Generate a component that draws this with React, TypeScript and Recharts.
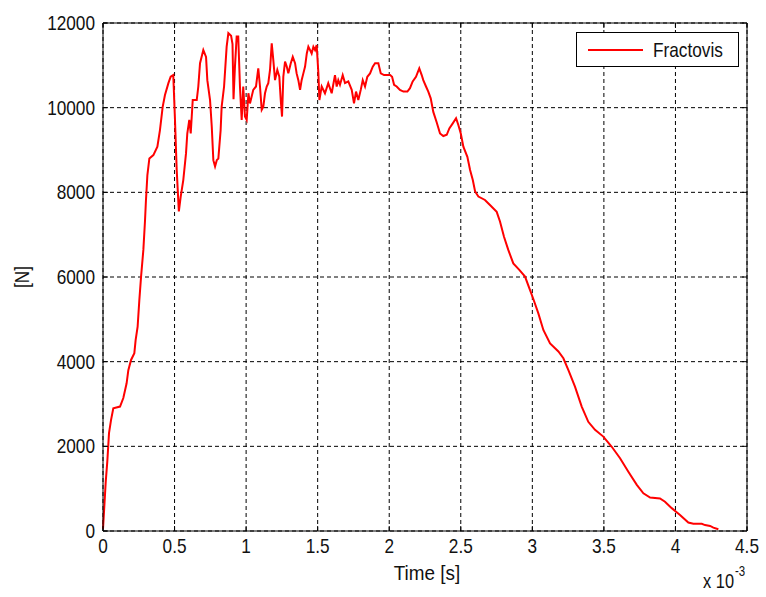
import React from 'react';
import {
  LineChart, Line, XAxis, YAxis, CartesianGrid, ReferenceLine, Legend, Label,
} from 'recharts';

// time in units of 1e-3 s, force in N
const timeMs = [
  0, 0.009, 0.019, 0.03, 0.042, 0.056, 0.072, 0.119, 0.142, 0.165,
  0.177, 0.196, 0.219, 0.228, 0.242, 0.254, 0.266, 0.282, 0.293, 0.3,
  0.31, 0.324, 0.352, 0.38, 0.398, 0.417, 0.433, 0.457, 0.473, 0.491,
  0.503, 0.515, 0.53, 0.543, 0.561, 0.58, 0.589, 0.603, 0.613, 0.627,
  0.655, 0.666, 0.678, 0.701, 0.72, 0.729, 0.748, 0.76, 0.771, 0.783,
  0.795, 0.806, 0.822, 0.829, 0.846, 0.864, 0.876, 0.895, 0.905, 0.912,
  0.922, 0.934, 0.945, 0.957, 0.969, 0.98, 0.992, 1.004, 1.016, 1.027,
  1.05, 1.069, 1.085, 1.097, 1.109, 1.12, 1.132, 1.144, 1.155, 1.167,
  1.179, 1.19, 1.202, 1.218, 1.232, 1.242, 1.251, 1.26, 1.272, 1.284,
  1.295, 1.312, 1.326, 1.342, 1.353, 1.365, 1.377, 1.388, 1.4, 1.412,
  1.424, 1.435, 1.447, 1.458, 1.47, 1.482, 1.493, 1.505, 1.512, 1.528,
  1.551, 1.574, 1.598, 1.621, 1.633, 1.644, 1.656, 1.675, 1.691, 1.714,
  1.738, 1.754, 1.768, 1.784, 1.801, 1.815, 1.831, 1.847, 1.866, 1.885,
  1.901, 1.924, 1.941, 1.964, 1.987, 2.006, 2.02, 2.034, 2.052, 2.075,
  2.099, 2.127, 2.145, 2.164, 2.187, 2.21, 2.227, 2.238, 2.257, 2.273,
  2.29, 2.308, 2.332, 2.355, 2.378, 2.402, 2.42, 2.444, 2.467, 2.483,
  2.5, 2.518, 2.546, 2.565, 2.584, 2.6, 2.623, 2.669, 2.704, 2.751,
  2.774, 2.802, 2.832, 2.867, 2.909, 2.949, 2.984, 3.007, 3.042, 3.077,
  3.124, 3.182, 3.217, 3.252, 3.298, 3.345, 3.391, 3.438, 3.496, 3.555,
  3.613, 3.671, 3.73, 3.776, 3.823, 3.892, 3.927, 3.974, 4.032, 4.09,
  4.125, 4.184, 4.207, 4.242, 4.265, 4.3,
];

const forceN = [
  50, 570, 1160, 1640, 2310, 2620, 2900, 2940, 3140, 3490,
  3800, 4040, 4200, 4510, 4830, 5460, 6010, 6640, 7300, 7800,
  8400, 8800, 8880, 9080, 9470, 10020, 10300, 10580, 10730, 10770,
  9710, 8530, 7550, 7900, 8290, 8920, 9390, 9710, 9390, 10180,
  10180, 10500, 11050, 11360, 11200, 10650, 10180, 9550, 8760, 8610,
  8760, 8800, 9470, 10020, 10500, 11440, 11760, 11700, 11500, 10200,
  10970, 11680, 11680, 10500, 9710, 10500, 9790, 9710, 10340, 10100,
  10420, 10500, 10930, 10500, 9950, 10020, 10340, 10500, 10580, 10890,
  11520, 11130, 10650, 10890, 10730, 10180, 9790, 10730, 11090, 10970,
  10810, 11050, 11200, 11050, 10810, 10650, 10420, 10650, 10810, 10970,
  11280, 11440, 11360, 11280, 11440, 11360, 11480, 10810, 10180, 10500,
  10340, 10580, 10340, 10770, 10500, 10650, 10540, 10770, 10580, 10620,
  10420, 10100, 10380, 10180, 10420, 10650, 10500, 10730, 10810, 10970,
  11050, 11050, 10810, 10770, 10770, 10770, 10730, 10540, 10500, 10420,
  10380, 10380, 10460, 10620, 10730, 10930, 10770, 10650, 10500, 10380,
  10220, 9900, 9650, 9390, 9330, 9360, 9510, 9630, 9750, 9590,
  9390, 9080, 8840, 8530, 8290, 8020, 7900, 7820, 7700, 7540,
  7310, 6950, 6640, 6320, 6170, 6010, 5690, 5480, 5140, 4750,
  4430, 4240, 4080, 3800, 3410, 2940, 2580, 2390, 2230, 1990,
  1720, 1400, 1090, 890, 790, 770, 690, 540, 380, 200,
  170, 170, 140, 120, 80, 40,
];

const xTicks = [0, 0.5, 1, 1.5, 2, 2.5, 3, 3.5, 4, 4.5];
const yTicks = [0, 2000, 4000, 6000, 8000, 10000, 12000];
const seriesName = 'Fractovis';

const data = timeMs.map((t, i) => ({ t, f: forceN[i] }));

const FONT = '"Liberation Sans", Arial, Helvetica, sans-serif';
const INK = '#111';
const PLOT_W = 644;
const PLOT_H = 508;

// narrow text: scale glyphs horizontally around the anchor point
const NarrowText = ({ x, y, anchor, size = 21, sx = 0.82, children }: any) => (
  <text
    transform={`translate(${x},${y}) scale(${sx},1)`}
    textAnchor={anchor}
    fontFamily={FONT}
    fontSize={size}
    fill={INK}
  >
    {children}
  </text>
);

const XTick = (props: any) => {
  const { x, y, payload } = props;
  return (
    <g>
      <line x1={x} y1={y} x2={x} y2={y - 5} stroke="#000" />
      <line x1={x} y1={y - PLOT_H} x2={x} y2={y - PLOT_H + 5} stroke="#000" />
      <NarrowText x={x} y={y + 22} anchor="middle">{payload.value}</NarrowText>
    </g>
  );
};

const YTick = (props: any) => {
  const { x, y, payload } = props;
  return (
    <g>
      <line x1={x} y1={y} x2={x + 5} y2={y} stroke="#000" />
      <line x1={x + PLOT_W} y1={y} x2={x + PLOT_W - 5} y2={y} stroke="#000" />
      <NarrowText x={x - 8} y={y + 7} anchor="end">{payload.value}</NarrowText>
    </g>
  );
};

const LegendBox = () => (
  <div
    style={{
      width: 163, height: 35, border: '1px solid #000', background: '#fff',
      display: 'flex', alignItems: 'center', boxSizing: 'border-box',
    }}
  >
    <span style={{ display: 'inline-block', width: 57, height: 2, background: '#ff0000', marginLeft: 11 }} />
    <span
      style={{
        marginLeft: 10, fontFamily: FONT, fontSize: 21, color: INK,
        display: 'inline-block', transform: 'scaleX(0.82)', transformOrigin: 'left center', whiteSpace: 'nowrap',
      }}
    >
      {seriesName}
    </span>
  </div>
);

export default function App() {
  return (
    <div style={{ position: 'absolute', left: 0, top: 0, width: 766, height: 597, background: '#fff' }}>
      <LineChart width={766} height={597} data={data} margin={{ top: 23, right: 19, bottom: 0, left: 0 }}>
        <CartesianGrid stroke="#000" strokeDasharray="4 3" strokeWidth={1} />
        <XAxis
          type="number"
          dataKey="t"
          domain={[0, 4.5]}
          ticks={xTicks}
          interval={0}
          height={66}
          tickSize={0}
          tickMargin={0}
          tickLine={false}
          axisLine={{ stroke: '#000' }}
          tick={<XTick />}
        >
          <Label
            content={(p: any) => {
              const vb = p.viewBox;
              const right = vb.x + vb.width;
              return (
                <g>
                  <NarrowText x={vb.x + vb.width / 2 + 2} y={580} anchor="middle" sx={0.9}>Time [s]</NarrowText>
                  <NarrowText x={right - 13} y={588} anchor="end" size={20}>x 10</NarrowText>
                  <NarrowText x={right - 12} y={576} anchor="start" size={14}>-3</NarrowText>
                </g>
              );
            }}
          />
        </XAxis>
        <YAxis
          type="number"
          domain={[0, 12000]}
          ticks={yTicks}
          interval={0}
          width={103}
          tickSize={0}
          tickMargin={0}
          tickLine={false}
          axisLine={{ stroke: '#000' }}
          tick={<YTick />}
        >
          <Label
            content={(p: any) => {
              const vb = p.viewBox;
              const cy = vb.y + vb.height / 2;
              return (
                <g transform={`translate(29,${cy}) rotate(-90)`}>
                  <NarrowText x={0} y={0} anchor="middle">[N]</NarrowText>
                </g>
              );
            }}
          />
        </YAxis>
        <ReferenceLine y={12000} stroke="#000" strokeWidth={1} />
        <ReferenceLine x={4.5} stroke="#000" strokeWidth={1} />
        <Legend
          layout="vertical"
          align="center"
          verticalAlign="middle"
          wrapperStyle={{ top: 32, left: 576, width: 163, height: 35 }}
          content={() => <LegendBox />}
        />
        <Line
          type="linear"
          dataKey="f"
          name={seriesName}
          stroke="#ff0000"
          strokeWidth={2}
          dot={false}
          isAnimationActive={false}
        />
      </LineChart>
    </div>
  );
}
